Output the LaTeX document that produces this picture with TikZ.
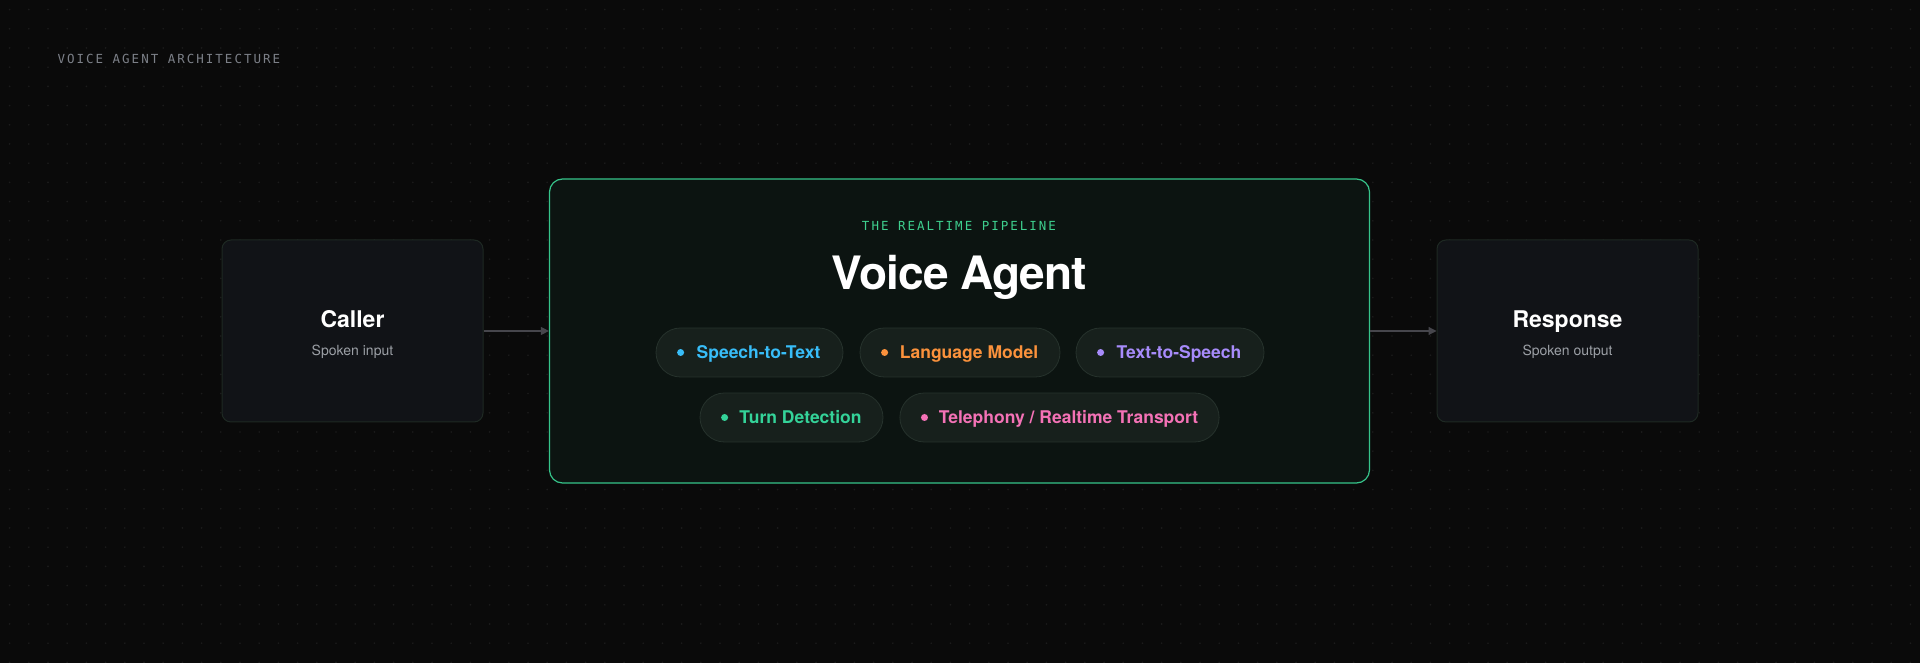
\documentclass[tikz,border=0pt]{standalone}
\usepackage{fontspec}
\setmainfont{TeX Gyre Heros}
\newfontfamily\monofont[LetterSpace=16]{DejaVu Sans Mono}
\newfontfamily\headfont[LetterSpace=-2]{TeX Gyre Heros}
\usepackage{xcolor}
\usetikzlibrary{positioning, calc, arrows.meta}

\definecolor{bgColor}{HTML}{0A0A0A}
\definecolor{gridDot}{HTML}{1C1C1C}
\definecolor{sideFill}{HTML}{111317}
\definecolor{sideLine}{HTML}{1E2923}
\definecolor{agentFill}{HTML}{0C1411}
\definecolor{agentLine}{HTML}{36C48A}
\definecolor{pillFill}{HTML}{17201C}
\definecolor{pillLine}{HTML}{26322C}
\definecolor{flowGray}{HTML}{46464C}
\definecolor{titleGray}{HTML}{7C8088}
\definecolor{subGray}{HTML}{9CA0A6}
\definecolor{pipeGreen}{HTML}{3ECF8E}
\definecolor{sttBlue}{HTML}{38BDF8}
\definecolor{llmOrange}{HTML}{FB923C}
\definecolor{ttsViolet}{HTML}{A78BFA}
\definecolor{turnGreen}{HTML}{34D399}
\definecolor{telPink}{HTML}{F472B6}

\tikzset{side/.style={draw=sideLine, fill=sideFill, line width=1pt, rounded corners=9pt, minimum width=261pt, minimum height=182pt}}
\tikzset{agentbox/.style={draw=agentLine, fill=agentFill, line width=1.2pt, rounded corners=13pt, minimum width=820pt, minimum height=304pt}}
\tikzset{pill/.style={draw=pillLine, fill=pillFill, line width=0.8pt, rounded corners=24.5pt, minimum height=49pt, inner xsep=21pt, text height=12.4pt, text depth=0pt, font=\bfseries\fontsize{17.5}{20}\selectfont}}
\tikzset{flow/.style={draw=flowGray, line width=1.1pt, -{Triangle[length=8pt, width=8pt]}}}
\tikzset{boxTitle/.style={anchor=base, text=white, font=\bfseries\fontsize{23}{26}\selectfont}}
\tikzset{boxSub/.style={anchor=base, text=subGray, font=\fontsize{14}{17}\selectfont}}

\begin{document}
\begin{tikzpicture}[x=1pt, y=1pt]

      % BACKGROUND AND DOT GRID

      \fill[bgColor] (0,0) rectangle (1920,663);
      \useasboundingbox (0,0) rectangle (1920,663);
      \foreach \i in {0,...,99}
        \foreach \j in {0,...,34}
          \fill[gridDot] (9.6+19.2*\i, 653.4-19.2*\j) circle (0.9pt);

      % BOXES

      \node[side] (caller) at (352.5,332) {};
      \node[agentbox] (agent) at (959.5,332) {};
      \node[side] (resp) at (1567.5,332) {};

      % PILLS

      \node[pill, text=sttBlue, minimum width=187pt] (s0) at (749.5,310.5) {\hspace*{18pt}Speech-to-Text};
      \node[pill, text=llmOrange, minimum width=200pt] (s1) at (960,310.5) {\hspace*{18pt}Language Model};
      \node[pill, text=ttsViolet, minimum width=188pt] (s2) at (1170,310.5) {\hspace*{18pt}Text-to-Speech};
      \node[pill, text=turnGreen, minimum width=183pt] (s3) at (791.5,245.5) {\hspace*{18pt}Turn Detection};
      \node[pill, text=telPink, minimum width=319pt] (s4) at (1059.5,245.5) {\hspace*{18pt}Telephony / Realtime Transport};

      \fill[sttBlue] ($(s0.west)+(25,0)$) circle (3.5pt);
      \fill[llmOrange] ($(s1.west)+(25,0)$) circle (3.5pt);
      \fill[ttsViolet] ($(s2.west)+(25,0)$) circle (3.5pt);
      \fill[turnGreen] ($(s3.west)+(25,0)$) circle (3.5pt);
      \fill[telPink] ($(s4.west)+(25,0)$) circle (3.5pt);

      % LABELS

      \node[anchor=base west, text=titleGray, font=\monofont\fontsize{12.5}{15}\selectfont] (archLabel) at (54,599) {VOICE AGENT ARCHITECTURE};
      \node[anchor=base, text=pipeGreen, font=\monofont\fontsize{12.5}{15}\selectfont] (pipeLabel) at (959,432) {THE REALTIME PIPELINE};
      \node[anchor=base, text=white, font=\headfont\bfseries\fontsize{46}{50}\selectfont] (agentLabel) at (959.5,373) {Voice Agent};

      \node[boxTitle] (cLabel) at ($(caller.center)+(0,3)$) {Caller};
      \node[boxSub] (cSub) at ($(caller.center)+(0,-25)$) {Spoken input};
      \node[boxTitle] (rLabel) at ($(resp.center)+(0,3)$) {Response};
      \node[boxSub] (rSub) at ($(resp.center)+(0,-25)$) {Spoken output};

      % ARCS

      \draw[flow] (caller.east) -- (agent.west);
      \draw[flow] (agent.east) -- (resp.west);

\end{tikzpicture}
\end{document}
